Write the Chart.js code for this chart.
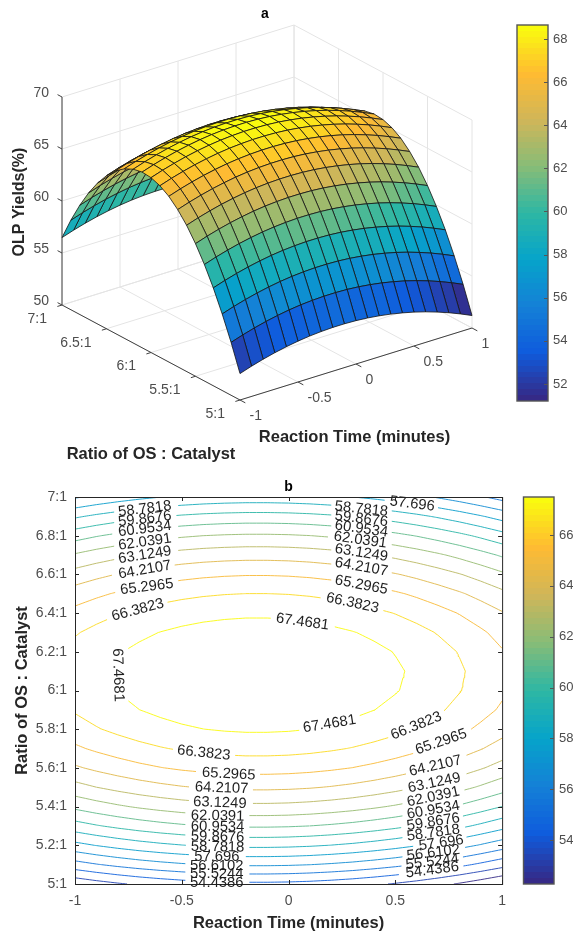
<!DOCTYPE html>
<html>
<head>
<meta charset="utf-8">
<title>OLP yield surface and contour</title>
<script src="https://cdn.jsdelivr.net/npm/chart.js@4"></script>
<style>
  html, body { margin: 0; padding: 0; background: #fff; overflow: hidden; }
  canvas { position: absolute; }
  #surface { left: 0; top: 0; }
  #barA { left: 500px; top: 0; }
  #contour { left: 0; top: 470px; }
  #barB { left: 506px; top: 470px; }
</style>
</head>
<body>
<canvas id="surface" width="505" height="465"></canvas>
<canvas id="barA" width="73" height="420"></canvas>
<canvas id="contour" width="515" height="463"></canvas>
<canvas id="barB" width="67" height="463"></canvas>
<script>
const timeGrid = [-1,-0.9,-0.8,-0.7,-0.6,-0.5,-0.4,-0.3,-0.2,-0.1,0,0.1,0.2,0.3,0.4,0.5,0.6,0.7,0.8,0.9,1];
const ratioGrid = [5,5.1,5.2,5.3,5.4,5.5,5.6,5.7,5.8,5.9,6,6.1,6.2,6.3,6.4,6.5,6.6,6.7,6.8,6.9,7];

// yield (%), one row per ratio, one column per reaction time
const yieldRows = [
  [52.54,52.91,53.23,53.51,53.74,53.93,54.07,54.16,54.21,54.21,54.17,54.08,53.94,53.76,53.53,53.26,52.94,52.57,52.16,51.70,51.20],
  [55.08,55.45,55.77,56.05,56.28,56.47,56.61,56.70,56.75,56.75,56.71,56.62,56.48,56.30,56.07,55.80,55.48,55.11,54.70,54.24,53.74],
  [57.36,57.73,58.05,58.33,58.56,58.75,58.89,58.98,59.03,59.03,58.99,58.90,58.76,58.58,58.35,58.08,57.76,57.39,56.98,56.52,56.02],
  [59.41,59.78,60.10,60.38,60.61,60.80,60.94,61.03,61.08,61.08,61.04,60.95,60.81,60.63,60.40,60.13,59.81,59.44,59.03,58.57,58.07],
  [61.20,61.57,61.89,62.17,62.40,62.59,62.73,62.82,62.87,62.87,62.83,62.74,62.60,62.42,62.19,61.92,61.60,61.23,60.82,60.36,59.86],
  [62.75,63.12,63.44,63.72,63.95,64.14,64.28,64.37,64.42,64.42,64.38,64.29,64.15,63.97,63.74,63.47,63.15,62.78,62.37,61.91,61.41],
  [64.06,64.43,64.75,65.03,65.26,65.45,65.59,65.68,65.73,65.73,65.69,65.60,65.46,65.28,65.05,64.78,64.46,64.09,63.68,63.22,62.72],
  [65.11,65.48,65.80,66.08,66.31,66.50,66.64,66.73,66.78,66.78,66.74,66.65,66.51,66.33,66.10,65.83,65.51,65.14,64.73,64.27,63.77],
  [65.93,66.30,66.62,66.90,67.13,67.32,67.46,67.55,67.60,67.60,67.56,67.47,67.33,67.15,66.92,66.65,66.33,65.96,65.55,65.09,64.59],
  [66.49,66.86,67.18,67.46,67.69,67.88,68.02,68.11,68.16,68.16,68.12,68.03,67.89,67.71,67.48,67.21,66.89,66.52,66.11,65.65,65.15],
  [66.81,67.18,67.50,67.78,68.01,68.20,68.34,68.43,68.48,68.48,68.44,68.35,68.21,68.03,67.80,67.53,67.21,66.84,66.43,65.97,65.47],
  [66.89,67.26,67.58,67.86,68.09,68.28,68.42,68.51,68.56,68.56,68.52,68.43,68.29,68.11,67.88,67.61,67.29,66.92,66.51,66.05,65.55],
  [66.71,67.08,67.40,67.68,67.91,68.10,68.24,68.33,68.38,68.38,68.34,68.25,68.11,67.93,67.70,67.43,67.11,66.74,66.33,65.87,65.37],
  [66.29,66.66,66.98,67.26,67.49,67.68,67.82,67.91,67.96,67.96,67.92,67.83,67.69,67.51,67.28,67.01,66.69,66.32,65.91,65.45,64.95],
  [65.63,66.00,66.32,66.60,66.83,67.02,67.16,67.25,67.30,67.30,67.26,67.17,67.03,66.85,66.62,66.35,66.03,65.66,65.25,64.79,64.29],
  [64.72,65.09,65.41,65.69,65.92,66.11,66.25,66.34,66.39,66.39,66.35,66.26,66.12,65.94,65.71,65.44,65.12,64.75,64.34,63.88,63.38],
  [63.56,63.93,64.25,64.53,64.76,64.95,65.09,65.18,65.23,65.23,65.19,65.10,64.96,64.78,64.55,64.28,63.96,63.59,63.18,62.72,62.22],
  [62.16,62.53,62.85,63.13,63.36,63.55,63.69,63.78,63.83,63.83,63.79,63.70,63.56,63.38,63.15,62.88,62.56,62.19,61.78,61.32,60.82],
  [60.51,60.88,61.20,61.48,61.71,61.90,62.04,62.13,62.18,62.18,62.14,62.05,61.91,61.73,61.50,61.23,60.91,60.54,60.13,59.67,59.17],
  [58.62,58.99,59.31,59.59,59.82,60.01,60.15,60.24,60.29,60.29,60.25,60.16,60.02,59.84,59.61,59.34,59.02,58.65,58.24,57.78,57.28],
  [56.48,56.85,57.17,57.45,57.68,57.87,58.01,58.10,58.15,58.15,58.11,58.02,57.88,57.70,57.47,57.20,56.88,56.51,56.10,55.64,55.14]
];

const timeTicks = [-1,-0.5,0,0.5,1];
const ratioTicks3d = [5,5.5,6,6.5,7];
const yieldTicks3d = [50,55,60,65,70];
const ratioTicks = [5,5.2,5.4,5.6,5.8,6,6.2,6.4,6.6,6.8,7];
const contourLevels = [67.4681,66.3823,65.2965,64.2107,63.1249,62.0391,60.9534,59.8676,58.7818,57.696,56.6102,55.5244,54.4386,53.3528,52.267];
const barTicksA = [52,54,56,58,60,62,64,66,68];
const barTicksB = [54,56,58,60,62,64,66];
const barRangeA = [51.21,68.65];
const barRangeB = [52.267,67.5];

// contour labels: level, time, ratio, rotation in degrees
const contourLabels = [
  [58.7818,-0.673,6.938,-7],[59.8676,-0.673,6.886,-7],[60.9534,-0.673,6.835,-7],[62.0391,-0.673,6.767,-8],
  [63.1249,-0.673,6.70,-9],[64.2107,-0.673,6.623,-10],[65.2965,-0.664,6.535,-7],[66.3823,-0.706,6.416,-15],
  [67.4681,-0.799,6.08,88],[67.4681,0.065,6.354,8],
  [57.696,0.579,6.964,7],[58.7818,0.341,6.938,6],[59.8676,0.341,6.886,7],[60.9534,0.341,6.835,8],
  [62.0391,0.336,6.778,8],[63.1249,0.341,6.711,9],[64.2107,0.341,6.638,10],[65.2965,0.341,6.545,11],[66.3823,0.299,6.452,12],
  [66.3823,-0.397,5.677,6],[65.2965,-0.28,5.568,3],[64.2107,-0.313,5.496,2],[63.1249,-0.322,5.419,2],
  [62.0391,-0.332,5.351,1],[60.9534,-0.332,5.295,1],[59.8676,-0.332,5.243,1],[58.7818,-0.332,5.191,1],
  [57.696,-0.336,5.14,0],[56.6102,-0.336,5.093,0],[55.5244,-0.336,5.052,0],[54.4386,-0.336,5.005,0],
  [67.4681,0.192,5.827,-9],[66.3823,0.598,5.817,-22],[65.2965,0.715,5.734,-19],[64.2107,0.687,5.61,-13],
  [63.1249,0.682,5.522,-12],[62.0391,0.678,5.45,-12],[60.9534,0.678,5.382,-10],[59.8676,0.678,5.32,-9],
  [58.7818,0.678,5.264,-8],[57.696,0.715,5.212,-8],[56.6102,0.678,5.16,-7],[55.5244,0.673,5.114,-7],[54.4386,0.673,5.072,-7]
];

const fontName = '"Liberation Sans", Arial, sans-serif';
const tickColor = '#4d4d4d';
const titleColor = '#262626';
const parulaStops = [[53,42,135],[15,92,221],[20,129,214],[6,164,202],[46,183,164],[135,188,119],[207,182,89],[255,187,50],[249,251,14]];

function parula(f) {
  f = Math.floor(Math.max(0, Math.min(0.9999, f)) * 64) / 63;
  const pos = Math.min(f, 1) * (parulaStops.length - 1);
  const i = Math.min(Math.floor(pos), parulaStops.length - 2);
  const a = parulaStops[i], b = parulaStops[i + 1], m = pos - i;
  return `rgb(${Math.round(a[0] + (b[0] - a[0]) * m)},${Math.round(a[1] + (b[1] - a[1]) * m)},${Math.round(a[2] + (b[2] - a[2]) * m)})`;
}

// ---------- panel a: oblique view of (time, ratio, yield) ----------
function project(t, r, z) {
  return {
    x: 240 + (t + 1) * 116 - (r - 5) * 89,
    y: 400 - (t + 1) * 36 - (r - 5) * 47.5 - (z - 50) * 10.4
  };
}

function lineSet(points, color, width) {
  return { data: points, borderColor: color, borderWidth: width, pointRadius: 0, fill: false, clip: false };
}

const surfaceSets = [];
const axisColor = '#404040';
const wallColor = '#e4e4e4';

// axes and ticks, drawn above the walls
surfaceSets.push(lineSet([project(-1,7,50), project(-1,7,70)], axisColor, 1));
surfaceSets.push(lineSet([project(-1,7,50), project(-1,5,50)], axisColor, 1));
surfaceSets.push(lineSet([project(-1,5,50), project(1,5,50)], axisColor, 1));
yieldTicks3d.forEach(z => surfaceSets.push(lineSet([project(-1,7,z), project(-1,7.05,z)], axisColor, 1)));
ratioTicks3d.forEach(r => surfaceSets.push(lineSet([project(-1,r,50), project(-1.04,r,50)], axisColor, 1)));
timeTicks.forEach(t => surfaceSets.push(lineSet([project(t,5,50), project(t,4.94,50)], axisColor, 1)));

// the first dataset is painted last, so nearest faces come first
for (let i = 0; i < ratioGrid.length - 1; i++) {
  for (let j = 0; j < timeGrid.length - 1; j++) {
    const z = yieldRows[i][j];
    surfaceSets.push({
      data: [
        project(timeGrid[j], ratioGrid[i], yieldRows[i][j]),
        project(timeGrid[j + 1], ratioGrid[i], yieldRows[i][j + 1]),
        project(timeGrid[j + 1], ratioGrid[i + 1], yieldRows[i + 1][j + 1]),
        project(timeGrid[j], ratioGrid[i + 1], yieldRows[i + 1][j]),
        project(timeGrid[j], ratioGrid[i], yieldRows[i][j])
      ],
      backgroundColor: parula((z - barRangeA[0]) / (barRangeA[1] - barRangeA[0])),
      borderColor: 'rgba(20,20,20,0.8)',
      borderWidth: 1,
      pointRadius: 0,
      fill: 'shape',
      clip: false
    });
  }
}

// back walls and floor
timeTicks.forEach(t => {
  surfaceSets.push(lineSet([project(t,7,50), project(t,7,70)], wallColor, 1));
  surfaceSets.push(lineSet([project(t,7,50), project(t,5,50)], wallColor, 1));
});
ratioTicks3d.forEach(r => {
  surfaceSets.push(lineSet([project(1,r,50), project(1,r,70)], wallColor, 1));
  surfaceSets.push(lineSet([project(-1,r,50), project(1,r,50)], wallColor, 1));
});
yieldTicks3d.forEach(z => {
  surfaceSets.push(lineSet([project(-1,7,z), project(1,7,z)], wallColor, 1));
  surfaceSets.push(lineSet([project(1,7,z), project(1,5,z)], wallColor, 1));
});

const surfaceText = {
  id: 'surfaceText',
  afterDatasetsDraw(chart) {
    const { ctx, scales } = chart;
    const put = (text, p, dx, dy, align) => {
      ctx.textAlign = align;
      ctx.fillText(text, scales.x.getPixelForValue(p.x) + dx, scales.y.getPixelForValue(p.y) + dy);
    };
    ctx.save();
    ctx.textBaseline = 'middle';
    ctx.fillStyle = tickColor;
    ctx.font = `14px ${fontName}`;
    yieldTicks3d.forEach(z => put(String(z), project(-1,7,z), -13, -4, 'right'));
    ratioTicks3d.forEach(r => put(r + ':1', project(-1,r,50), -15, 14, 'right'));
    timeTicks.forEach(t => put(String(t), project(t,5,50), 9.5, 16.5, 'left'));
    ctx.fillStyle = titleColor;
    ctx.font = `bold 16.5px ${fontName}`;
    ctx.textAlign = 'center';
    ctx.fillText('Reaction Time (minutes)', 354.5, 437);
    ctx.fillText('Ratio of OS : Catalyst', 151, 454);
    ctx.font = `bold 14px ${fontName}`;
    ctx.fillStyle = '#000';
    ctx.fillText('a', 265, 14);
    ctx.translate(20, 202);
    ctx.rotate(-Math.PI / 2);
    ctx.fillStyle = titleColor;
    ctx.font = `bold 16px ${fontName}`;
    ctx.fillText('OLP Yields(%)', 0, 0);
    ctx.restore();
  }
};

new Chart(document.getElementById('surface'), {
  type: 'line',
  data: { datasets: surfaceSets },
  plugins: [surfaceText],
  options: {
    responsive: false,
    animation: false,
    events: [],
    layout: { padding: 0 },
    plugins: { legend: { display: false }, tooltip: { enabled: false } },
    scales: {
      x: { type: 'linear', display: false, min: 0, max: 505 },
      y: { type: 'linear', display: false, min: 0, max: 465, reverse: true }
    }
  }
});

// ---------- panel b: contour lines traced through the same table ----------
const pxPerTime = 214, pxPerRatio = 193.5;

function inLabel(p, level) {
  return contourLabels.some(l => {
    if (l[0] !== level) return false;
    const dx = (p.x - l[1]) * pxPerTime, dy = (l[2] - p.y) * pxPerRatio;
    const a = l[3] * Math.PI / 180;
    const u = dx * Math.cos(a) + dy * Math.sin(a);
    const v = -dx * Math.sin(a) + dy * Math.cos(a);
    return Math.abs(u) < String(l[0]).length * 4.57 && Math.abs(v) < 10;
  });
}

function addSegment(out, a, b, level) {
  const steps = 6;
  let open = false;
  for (let s = 0; s < steps; s++) {
    const p = { x: a.x + (b.x - a.x) * s / steps, y: a.y + (b.y - a.y) * s / steps };
    const q = { x: a.x + (b.x - a.x) * (s + 1) / steps, y: a.y + (b.y - a.y) * (s + 1) / steps };
    const mid = { x: (p.x + q.x) / 2, y: (p.y + q.y) / 2 };
    if (inLabel(mid, level)) { open = false; out.push({ x: null, y: null }); continue; }
    if (!open) out.push(p);
    out.push(q);
    open = true;
  }
  out.push({ x: null, y: null });
}

function traceLevel(level) {
  const out = [];
  for (let i = 0; i < ratioGrid.length - 1; i++) {
    for (let j = 0; j < timeGrid.length - 1; j++) {
      const cell = [[j,i],[j + 1,i],[j + 1,i + 1],[j,i + 1]];
      const hits = [];
      for (let k = 0; k < 4; k++) {
        const a = cell[k], b = cell[(k + 1) % 4];
        const za = yieldRows[a[1]][a[0]], zb = yieldRows[b[1]][b[0]];
        if ((za < level) !== (zb < level)) {
          const f = (level - za) / (zb - za);
          hits.push({
            x: timeGrid[a[0]] + f * (timeGrid[b[0]] - timeGrid[a[0]]),
            y: ratioGrid[a[1]] + f * (ratioGrid[b[1]] - ratioGrid[a[1]])
          });
        }
      }
      if (hits.length >= 2) addSegment(out, hits[0], hits[1], level);
      if (hits.length === 4) addSegment(out, hits[2], hits[3], level);
    }
  }
  return out;
}

const contourSets = contourLevels.map(level => ({
  data: traceLevel(level),
  borderColor: parula((level - barRangeB[0]) / (barRangeB[1] - barRangeB[0])),
  borderWidth: 0.9,
  pointRadius: 0,
  fill: false
}));

const contourDecor = {
  id: 'contourDecor',
  afterDatasetsDraw(chart) {
    const { ctx, chartArea: area, scales } = chart;
    ctx.save();
    ctx.strokeStyle = '#262626';
    ctx.lineWidth = 1;
    ctx.beginPath();
    scales.x.ticks.forEach(tick => {
      const x = Math.round(scales.x.getPixelForValue(tick.value)) + 0.5;
      ctx.moveTo(x, area.top); ctx.lineTo(x, area.top + 4);
      ctx.moveTo(x, area.bottom); ctx.lineTo(x, area.bottom - 4);
    });
    scales.y.ticks.forEach(tick => {
      const y = Math.round(scales.y.getPixelForValue(tick.value)) + 0.5;
      ctx.moveTo(area.left, y); ctx.lineTo(area.left + 4, y);
      ctx.moveTo(area.right, y); ctx.lineTo(area.right - 4, y);
    });
    ctx.stroke();
    ctx.strokeRect(area.left + 0.5, area.top + 0.5, area.width, area.height);
    ctx.fillStyle = '#1f1f1f';
    ctx.font = `14.8px ${fontName}`;
    ctx.textAlign = 'center';
    ctx.textBaseline = 'middle';
    contourLabels.forEach(l => {
      ctx.save();
      ctx.translate(scales.x.getPixelForValue(l[1]), scales.y.getPixelForValue(l[2]));
      ctx.rotate(l[3] * Math.PI / 180);
      ctx.fillText(String(l[0]), 0, 0);
      ctx.restore();
    });
    ctx.restore();
  }
};

new Chart(document.getElementById('contour'), {
  type: 'line',
  data: { datasets: contourSets },
  plugins: [contourDecor],
  options: {
    responsive: false,
    animation: false,
    events: [],
    layout: { padding: { right: 12 } },
    plugins: {
      legend: { display: false },
      tooltip: { enabled: false },
      title: {
        display: true,
        fullSize: false,
        text: 'b',
        color: '#000',
        font: { family: fontName, size: 14, weight: 'bold' },
        padding: { top: 9, bottom: 1.2 }
      }
    },
    scales: {
      x: {
        type: 'linear',
        min: -1,
        max: 1,
        grid: { display: false, drawTicks: false },
        border: { display: false },
        afterBuildTicks: axis => { axis.ticks = timeTicks.map(v => ({ value: v })); },
        afterFit: axis => { axis.height = 49; },
        ticks: { autoSkip: false, maxRotation: 0, padding: 9, color: tickColor, font: { family: fontName, size: 14 }, callback: v => String(v) },
        title: { display: true, text: 'Reaction Time (minutes)', color: titleColor, font: { family: fontName, size: 16.5, weight: 'bold' }, padding: { top: 0, bottom: 0 } }
      },
      y: {
        type: 'linear',
        min: 5,
        max: 7,
        grid: { display: false, drawTicks: false },
        border: { display: false },
        afterBuildTicks: axis => { axis.ticks = ratioTicks.map(v => ({ value: v })); },
        afterFit: axis => { axis.width = 75; },
        ticks: { autoSkip: false, padding: 8, color: tickColor, font: { family: fontName, size: 14 }, callback: v => v + ':1' },
        title: { display: true, text: 'Ratio of OS : Catalyst', color: titleColor, font: { family: fontName, size: 16.5, weight: 'bold' }, padding: { top: 13, bottom: 0 } }
      }
    }
  }
});

// ---------- colour bars ----------
function colorBar(id, range, ticks, padding, axisWidth) {
  const shade = ctx => {
    const area = ctx.chart.chartArea;
    if (!area) return '#888';
    const grad = ctx.chart.ctx.createLinearGradient(0, area.bottom, 0, area.top);
    for (let n = 0; n < 64; n++) {
      grad.addColorStop(n / 64, parula((n + 0.5) / 64));
      grad.addColorStop((n + 1) / 64, parula((n + 0.5) / 64));
    }
    return grad;
  };
  const frame = {
    id: 'barFrame',
    afterDatasetsDraw(chart) {
      const { ctx, chartArea: area, scales } = chart;
      ctx.save();
      ctx.strokeStyle = '#555';
      ctx.lineWidth = 1.4;
      ctx.strokeRect(area.left, area.top, area.width, area.height);
      ctx.lineWidth = 1;
      ctx.beginPath();
      ticks.forEach(v => {
        const y = Math.round(scales.y.getPixelForValue(v)) + 0.5;
        ctx.moveTo(area.right, y);
        ctx.lineTo(area.right - 4, y);
      });
      ctx.stroke();
      ctx.restore();
    }
  };
  new Chart(document.getElementById(id), {
    type: 'bar',
    data: {
      labels: [''],
      datasets: [{ data: [range], backgroundColor: shade, barPercentage: 1, categoryPercentage: 1 }]
    },
    plugins: [frame],
    options: {
      responsive: false,
      animation: false,
      events: [],
      layout: { padding },
      plugins: { legend: { display: false }, tooltip: { enabled: false } },
      scales: {
        x: { display: false },
        y: {
          position: 'right',
          min: range[0],
          max: range[1],
          grid: { display: false, drawTicks: false },
          border: { display: false },
          afterBuildTicks: axis => { axis.ticks = ticks.map(v => ({ value: v })); },
          afterFit: axis => { axis.width = axisWidth; },
          ticks: { padding: 5, color: tickColor, font: { family: fontName, size: 13 }, callback: v => String(v) }
        }
      }
    }
  });
}

colorBar('barA', barRangeA, barTicksA, { top: 25, bottom: 19, left: 17, right: 0 }, 25);
colorBar('barB', barRangeB, barTicksB, { top: 27, bottom: 49, left: 17.5, right: 0 }, 19);
</script>
</body>
</html>
